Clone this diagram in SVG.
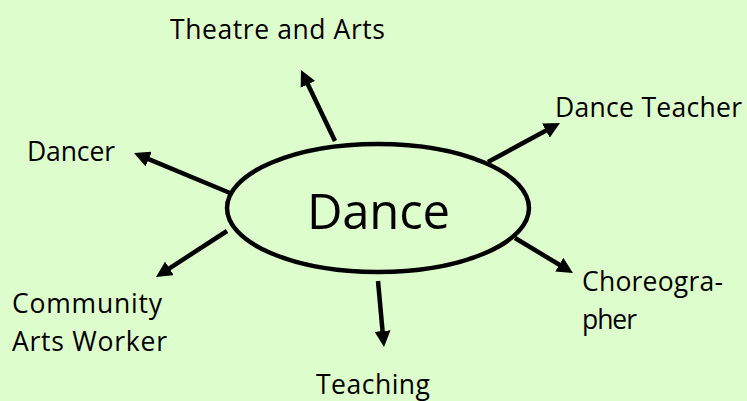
<svg xmlns="http://www.w3.org/2000/svg" width="747" height="401" viewBox="0 0 747 401">
<style>
.lbl{font-family:"Open Sans","Liberation Sans",sans-serif;font-size:26.5px;fill:#000}
.main{font-family:"Open Sans","Liberation Sans",sans-serif;font-size:49px;fill:#000}
.conn{stroke:#000;stroke-width:4.5;fill:none;marker-end:url(#ah)}
</style>
<defs>
<marker id="ah" markerUnits="userSpaceOnUse" markerWidth="18" markerHeight="16" refX="6" refY="8" orient="auto">
<path d="M0,0 L16,8 L0,16 Z" fill="#000"/>
</marker>
</defs>
<rect width="747" height="401" fill="#ddfdcc"/>
<g id="connectors">
<line class="conn" x1="335" y1="141" x2="305.3" y2="79"/>
<line class="conn" x1="488" y1="162" x2="551.2" y2="127.8"/>
<line class="conn" x1="230" y1="193" x2="143.2" y2="156.8"/>
<line class="conn" x1="227" y1="231" x2="164.4" y2="271.6"/>
<line class="conn" x1="378" y1="281" x2="383.1" y2="337"/>
<line class="conn" x1="515" y1="238" x2="564.4" y2="267.8"/>
</g>
<g id="dance">
<ellipse cx="378" cy="208" rx="151" ry="64" fill="none" stroke="#000" stroke-width="4.5"/>
<text class="main" x="307" y="229" textLength="143" lengthAdjust="spacing">Dance</text>
</g>
<g id="theatre"><text class="lbl" x="170" y="39" textLength="215" lengthAdjust="spacing">Theatre and Arts</text></g>
<g id="teacher"><text class="lbl" x="555" y="117" textLength="187" lengthAdjust="spacing">Dance Teacher</text></g>
<g id="dancer"><text class="lbl" x="27" y="161" textLength="88" lengthAdjust="spacing">Dancer</text></g>
<g id="community"><text class="lbl" x="12" y="313" textLength="150" lengthAdjust="spacing">Community</text><text class="lbl" x="12" y="351" textLength="155" lengthAdjust="spacing">Arts Worker</text></g>
<g id="teaching"><text class="lbl" x="316" y="394" textLength="114" lengthAdjust="spacing">Teaching</text></g>
<g id="choreographer"><text class="lbl" x="582" y="291" textLength="141" lengthAdjust="spacing">Choreogra-</text><text class="lbl" x="582" y="329" textLength="55" lengthAdjust="spacing">pher</text></g>
</svg>
